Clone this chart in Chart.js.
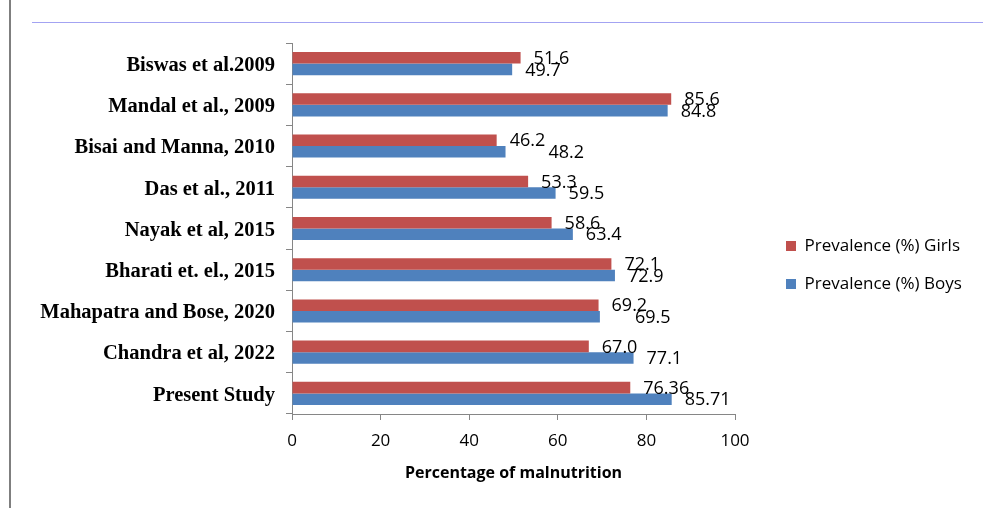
<!DOCTYPE html>
<html>
<head>
<meta charset="utf-8">
<script src="https://cdn.jsdelivr.net/npm/chart.js@4.4.1/dist/chart.umd.min.js"></script>
<style>
  html, body { margin: 0; padding: 0; background: #fff; }
  #wrap { position: relative; width: 987px; height: 508px; overflow: hidden; }
  #grafico { position: absolute; left: 0; top: 0; }
  .borda-esq { position: absolute; left: 9px; top: 0; width: 2px; height: 508px; background: #7f7f7f; }
  .linha-topo { position: absolute; left: 32px; top: 22px; width: 951px; height: 1px; background: #a3a3f2; }
</style>
</head>
<body>
<div id="wrap">
  <div class="borda-esq"></div>
  <div class="linha-topo"></div>
  <canvas id="grafico" width="987" height="508"></canvas>
</div>
<script>
const estudos = [
    "Biswas et al.2009",
    "Mandal et al., 2009",
    "Bisai and Manna, 2010",
    "Das et al., 2011",
    "Nayak et al, 2015",
    "Bharati et. el., 2015",
    "Mahapatra and Bose, 2020",
    "Chandra et al, 2022",
    "Present Study"
];
const meninas = [51.6, 85.6, 46.2, 53.3, 58.6, 72.1, 69.2, 67.0, 76.36];
const meninos = [49.7, 84.8, 48.2, 59.5, 63.4, 72.9, 69.5, 77.1, 85.71];
const xTicks = [0, 20, 40, 60, 80, 100];

function formatar(v) {
    return Math.round(v * 10) / 10 === v ? v.toFixed(1) : String(v);
}

// rótulos de valor no fim de cada barra
const rotulosPlugin = {
    id: 'rotulos',
    afterDatasetsDraw(chart) {
        const ctx = chart.ctx;
        const deslocar = [{}, { 2: 30, 6: 22 }];
        ctx.save();
        ctx.font = '18px "Open Sans"';
        ctx.fillStyle = '#000';
        ctx.textAlign = 'left';
        ctx.textBaseline = 'middle';
        chart.data.datasets.forEach((ds, i) => {
            chart.getDatasetMeta(i).data.forEach((bar, j) => {
                const extra = deslocar[i][j] || 0;
                ctx.fillText(formatar(ds.data[j]), bar.x + 13 + extra, bar.y + 1);
            });
        });
        ctx.restore();
    }
};

// posição da legenda à direita
const legendaPlugin = {
    id: 'legendaPos',
    beforeInit(chart) {
        const fit = chart.legend.fit;
        chart.legend.fit = function () {
            fit.call(this);
            this.width = 252;
        };
    },
    afterLayout(chart) {
        const lg = chart.legend;
        lg.left = 765;
        lg.right = lg.left + 252;
        lg.top = 43;
        lg.bottom = 487;
    }
};

const ctx = document.getElementById('grafico').getContext('2d');
new Chart(ctx, {
    type: 'bar',
    data: {
        labels: estudos,
        datasets: [
            {
                label: 'Prevalence (%) Girls',
                data: meninas,
                backgroundColor: '#C0504D'
            },
            {
                label: 'Prevalence (%) Boys',
                data: meninos,
                backgroundColor: '#4F81BD'
            }
        ]
    },
    options: {
        indexAxis: 'y',
        responsive: false,
        animation: false,
        devicePixelRatio: 1,
        categoryPercentage: 0.56,
        barPercentage: 1,
        layout: { padding: { left: 0, top: 43, right: 0, bottom: 0 } },
        plugins: {
            tooltip: { enabled: false },
            legend: {
                position: 'right',
                align: 'center',
                labels: {
                    color: '#000',
                    font: { family: 'Open Sans', size: 17 },
                    boxWidth: 10,
                    boxHeight: 10,
                    padding: 21
                }
            }
        },
        scales: {
            x: {
                min: 0,
                max: 100,
                afterBuildTicks: s => { s.ticks = xTicks.map(v => ({ value: v })); },
                afterFit: s => { s.height = 94; },
                ticks: {
                    color: '#000',
                    padding: 11,
                    font: { family: 'Open Sans', size: 17 }
                },
                grid: { drawOnChartArea: false, tickLength: 6, color: '#868686' },
                border: { color: '#868686' },
                title: {
                    display: true,
                    text: 'Percentage of malnutrition',
                    color: '#000',
                    padding: { top: 0, bottom: 25 },
                    font: { family: 'Open Sans', size: 16, weight: 'bold' }
                }
            },
            y: {
                afterFit: s => { s.width = 292; },
                ticks: {
                    color: '#000',
                    padding: 11,
                    labelOffset: 2,
                    font: { family: 'Liberation Serif', size: 20.5, weight: 'bold' }
                },
                grid: { offset: true, drawOnChartArea: false, tickLength: 6, color: '#868686' },
                border: { color: '#868686' }
            }
        }
    },
    plugins: [rotulosPlugin, legendaPlugin]
});
</script>
</body>
</html>
